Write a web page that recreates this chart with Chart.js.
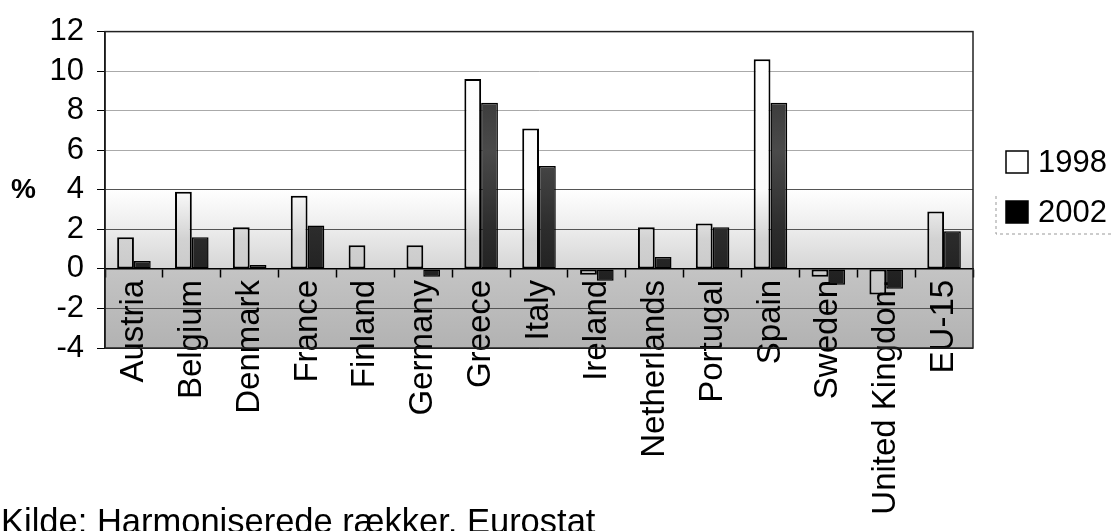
<!DOCTYPE html>
<html>
<head>
<meta charset="utf-8">
<title>1998 / 2002</title>
<script src="https://cdn.jsdelivr.net/npm/chart.js@4/dist/chart.umd.min.js"></script>
<style>
  html, body { margin: 0; padding: 0; background: #fff; }
  .wrap { position: relative; width: 1117px; height: 531px; }
</style>
</head>
<body>
<div class="wrap"><canvas id="chart"></canvas></div>
<script>
// ── Data ──────────────────────────────────────────────────
const categories = ['Austria', 'Belgium', 'Denmark', 'France', 'Finland', 'Germany', 'Greece', 'Italy',
  'Ireland', 'Netherlands', 'Portugal', 'Spain', 'Sweden', 'United Kingdom', 'EU-15']
const values1998 = [1.6, 3.9, 2.1, 3.7, 1.2, 1.2, 9.6, 7.1, -0.3, 2.1, 2.3, 10.6, -0.4, -1.3, 2.9]
const values2002 = [0.4, 1.6, 0.2, 2.2, null, -0.4, 8.4, 5.2, -0.6, 0.6, 2.1, 8.4, -0.8, -1.0, 1.9]
const seriesNames = ['1998', '2002']
const yMin = -4
const yMax = 12
const yStep = 2
const axisTitle = '%'
const sourceNote = 'Kilde: Harmoniserede rækker, Eurostat'

const FONT = '"Liberation Sans", Arial, sans-serif'

// vertical gradient tied to y values
function yGradient(chart, stops) {
  const { ctx, chartArea, scales } = chart
  if (!chartArea) return null
  const g = ctx.createLinearGradient(0, chartArea.top, 0, chartArea.bottom)
  const h = chartArea.bottom - chartArea.top
  stops.forEach(([v, c]) => {
    const p = (scales.y.getPixelForValue(v) - chartArea.top) / h
    g.addColorStop(Math.min(1, Math.max(0, p)), c)
  })
  return g
}

// ── Plot background, frame, legend and notes ─────────────
const decor = {
  id: 'decor',
  beforeDraw(chart) {
    const { ctx, chartArea: a } = chart
    ctx.save()
    ctx.fillStyle = yGradient(chart, [[12, '#ffffff'], [4, '#ffffff'], [2, '#ececec'], [0.05, '#d6d6d6'], [0, '#c4c4c4'], [-4, '#b2b2b2']])
    ctx.fillRect(a.left, a.top, a.right - a.left, a.bottom - a.top)
    ctx.restore()
  },
  afterDraw(chart) {
    const { ctx, chartArea: a } = chart
    ctx.save()
    // plot frame
    ctx.strokeStyle = '#222'
    ctx.lineWidth = 1.5
    ctx.strokeRect(a.left, a.top, a.right - a.left, a.bottom - a.top)

    // axis title
    ctx.fillStyle = '#000'
    ctx.font = `bold 28px ${FONT}`
    ctx.textAlign = 'left'
    ctx.textBaseline = 'middle'
    ctx.fillText(axisTitle, 11, chart.scales.y.getPixelForValue(4))

    // legend
    const lx = 1006
    const rows = [162, 212]
    chart.data.datasets.forEach((ds, i) => {
      const cy = rows[i]
      ctx.fillStyle = i === 0 ? '#fff' : '#000'
      ctx.fillRect(lx, cy - 11, 22, 22)
      ctx.strokeStyle = '#000'
      ctx.lineWidth = 1.5
      ctx.strokeRect(lx, cy - 11, 22, 22)
      ctx.fillStyle = '#000'
      ctx.font = `31px ${FONT}`
      ctx.textBaseline = 'middle'
      ctx.fillText(ds.label, lx + 32, cy + 1)
    })
    ctx.strokeStyle = '#999'
    ctx.lineWidth = 1
    ctx.setLineDash([3, 3])
    ctx.beginPath()
    ctx.moveTo(996, 196)
    ctx.lineTo(996, 234)
    ctx.lineTo(1114, 234)
    ctx.stroke()
    ctx.setLineDash([])

    // source note
    ctx.fillStyle = '#000'
    ctx.font = `34.5px ${FONT}`
    ctx.textBaseline = 'alphabetic'
    ctx.fillText(sourceNote, 1, 533)
    ctx.restore()
  },
}

new Chart(document.getElementById('chart'), {
  type: 'bar',
  data: {
    labels: categories,
    datasets: [
      {
        label: seriesNames[0],
        data: values1998,
        backgroundColor: (c) => yGradient(c.chart, [[12, '#ffffff'], [4, '#fbfbfb'], [1.5, '#d2d2d2'], [-4, '#b8b8b8']]),
        borderColor: '#000',
        borderWidth: 2,
        borderSkipped: false,
      },
      {
        label: seriesNames[1],
        data: values2002,
        backgroundColor: (c) => yGradient(c.chart, [[12, '#2a2a2a'], [6, '#4a4a4a'], [2, '#2c2c2c'], [-4, '#111']]),
        borderColor: '#000',
        borderWidth: 1.5,
        borderSkipped: false,
      },
    ],
  },
  options: {
    responsive: true,
    maintainAspectRatio: false,
    animation: false,
    layout: { padding: { top: 20, right: 144, bottom: 183, left: 0 } },
    datasets: { bar: { categoryPercentage: 0.58, barPercentage: 1 } },
    plugins: {
      legend: { display: false },
      tooltip: { enabled: false },
    },
    scales: {
      x: {
        position: { y: 0 },
        z: 1,
        offset: true,
        grid: {
          offset: true,
          drawOnChartArea: false,
          drawTicks: true,
          tickLength: 8,
          tickColor: '#000',
          tickWidth: 1.5,
        },
        border: { display: true, color: '#000', width: 1.5 },
        ticks: {
          autoSkip: false,
          minRotation: 90,
          maxRotation: 90,
          padding: 3,
          color: '#000',
          font: { family: FONT, size: 33 },
        },
      },
      y: {
        min: yMin,
        max: yMax,
        afterFit: (s) => { s.width = 105 },
        grid: {
          color: (c) => (c.tick.value === yMax || c.tick.value === yMin ? '#222' : c.tick.value >= 6 ? '#aaa' : '#555'),
          lineWidth: 1,
          tickLength: 8,
          tickColor: '#000',
        },
        border: { display: true, color: '#000', width: 1.5 },
        ticks: {
          stepSize: yStep,
          padding: 13,
          color: '#000',
          font: { family: FONT, size: 31 },
        },
      },
    },
  },
  plugins: [decor],
})
</script>
</body>
</html>
